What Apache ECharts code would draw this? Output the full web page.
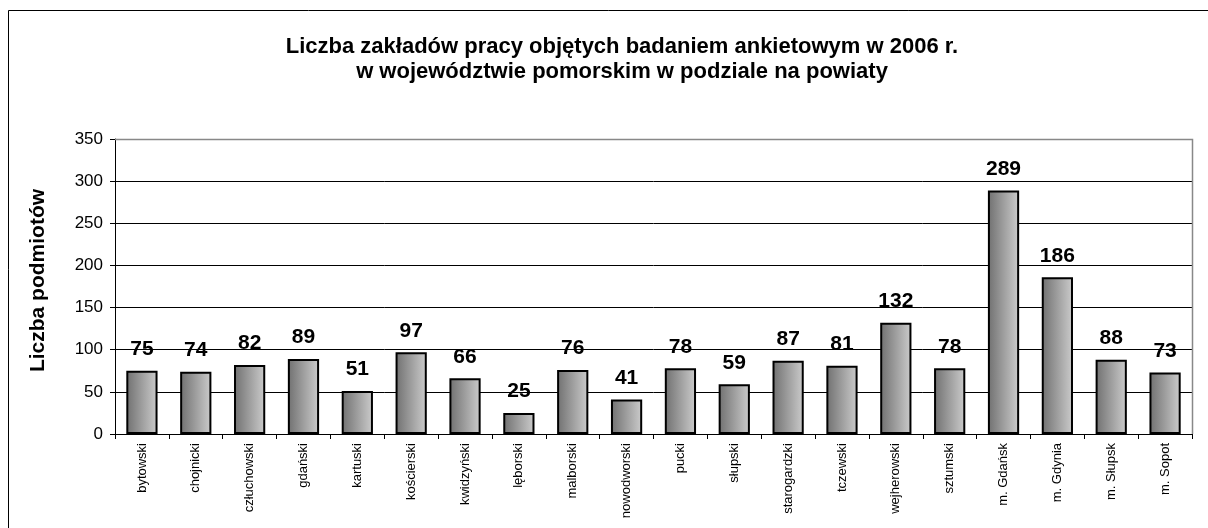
<!DOCTYPE html>
<html>
<head>
<meta charset="utf-8">
<script src="https://cdn.jsdelivr.net/npm/echarts@6/dist/echarts.min.js"></script>
<style>
  html, body { margin: 0; padding: 0; background: #fff; }
  #chart { width: 1208px; height: 528px; }
</style>
</head>
<body>
<div id="chart"></div>
<script>
// powiaty woj. pomorskiego
const powiaty = ['bytowski', 'chojnicki', 'człuchowski', 'gdański', 'kartuski', 'kościerski',
  'kwidzyński', 'lęborski', 'malborski', 'nowodworski', 'pucki', 'słupski', 'starogardzki',
  'tczewski', 'wejherowski', 'sztumski', 'm. Gdańsk', 'm. Gdynia', 'm. Słupsk', 'm. Sopot']
const liczbaZakladow = [75, 74, 82, 89, 51, 97, 66, 25, 76, 41, 78, 59, 87, 81, 132, 78, 289, 186, 88, 73]
const yTicks = [0, 50, 100, 150, 200, 250, 300, 350]

const fontName = '"Liberation Sans", Arial, sans-serif'
const myChart = echarts.init(document.getElementById('chart'))

const option = {
  backgroundColor: '#fff',
  animation: false,
  title: {
    text: 'Liczba zakładów pracy objętych badaniem ankietowym w 2006 r.\nw województwie pomorskim w podziale na powiaty',
    left: 617,
    top: 29,
    textAlign: 'center',
    textStyle: {
      fontFamily: fontName,
      fontSize: 22,
      fontWeight: 'bold',
      color: '#000',
      lineHeight: 25
    }
  },
  graphic: [
    {
      // ramka wykresu
      type: 'rect',
      shape: { x: 8.5, y: 10.5, width: 1220, height: 540 },
      style: { fill: 'none', stroke: '#000', lineWidth: 1 },
      silent: true
    },
    {
      // ramka obszaru kreślenia (góra + prawo)
      type: 'polyline',
      shape: { points: [[115, 139.5], [1192.5, 139.5], [1192.5, 434]] },
      style: { fill: 'none', stroke: '#888', lineWidth: 1.5 },
      silent: true,
      z: 10
    }
  ],
  grid: {
    left: 115,
    right: 16,
    top: 139,
    bottom: 94,
    containLabel: false
  },
  xAxis: {
    type: 'category',
    data: powiaty,
    axisLine: { show: true, lineStyle: { color: '#000', width: 1 } },
    axisTick: { show: true, alignWithLabel: false, length: 5, lineStyle: { color: '#000' } },
    axisLabel: {
      rotate: 90,
      interval: 0,
      margin: 9,
      fontFamily: fontName,
      fontSize: 13,
      color: '#000'
    }
  },
  yAxis: {
    type: 'value',
    min: yTicks[0],
    max: yTicks[yTicks.length - 1],
    interval: 50,
    name: 'Liczba podmiotów',
    nameLocation: 'middle',
    nameGap: 66,
    nameRotate: 90,
    nameTextStyle: {
      fontFamily: fontName,
      fontSize: 21,
      fontWeight: 'bold',
      color: '#000',
      padding: [0, 0, 0, 12]
    },
    axisLine: { show: true, lineStyle: { color: '#000', width: 1 } },
    axisTick: { show: true, inside: false, length: 5, lineStyle: { color: '#000' } },
    axisLabel: {
      margin: 12,
      fontFamily: fontName,
      fontSize: 17,
      color: '#000'
    },
    splitLine: {
      show: true,
      lineStyle: { type: 'solid', color: '#000', width: 1 }
    }
  },
  series: [
    {
      type: 'bar',
      data: liczbaZakladow,
      barWidth: '58%',
      itemStyle: {
        color: {
          type: 'linear',
          x: 0, y: 0, x2: 1, y2: 0,
          colorStops: [
            { offset: 0, color: '#707070' },
            { offset: 1, color: '#cccccc' }
          ]
        },
        borderColor: '#000',
        borderWidth: 2
      },
      label: {
        show: true,
        position: 'top',
        distance: 11,
        fontFamily: fontName,
        fontSize: 21,
        fontWeight: 'bold',
        color: '#000'
      }
    }
  ]
}

myChart.setOption(option)
</script>
</body>
</html>
